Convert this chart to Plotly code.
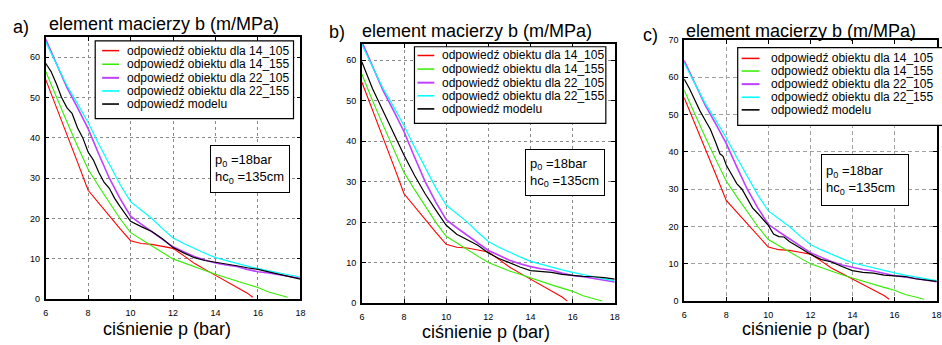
import plotly.graph_objects as go

W, H = 942, 345

# ---------------- data ----------------
p_14_105 = [6, 6.5, 7, 7.5, 8, 8.5, 9, 9.5, 10, 10.5, 11, 11.5, 12, 12.5, 13, 13.5, 14, 14.5, 15, 15.5, 15.75]
b_14_105 = [54.5, 47.8, 41, 34, 27, 23.8, 20.8, 17.5, 14.5, 13.8, 13.6, 13.1, 12.6, 10.8, 8.9, 7.4, 5.9, 4.4, 3.0, 1.5, 0.5]

p_14_155 = [6, 6.5, 7, 7.5, 8, 8.5, 9, 9.5, 10, 10.5, 11, 11.5, 12, 12.5, 13, 13.5, 14, 14.5, 15, 15.5, 16, 16.5, 17, 17.4]
b_14_155 = [56.5, 50, 44, 38, 32.2, 28, 24, 20, 16.5, 14.8, 13.3, 11.6, 10, 9, 7.9, 7.1, 6.2, 5.3, 4.5, 3.7, 2.9, 1.8, 1.1, 0.5]

p_22 = [6, 6.5, 7, 7.5, 8, 8.5, 9, 9.5, 10, 10.5, 11, 11.5, 12, 12.5, 13, 13.5, 14, 14.5, 15, 15.5, 16, 16.5, 17, 17.5, 18]
b_22_105 = [64.5, 58.5, 52.5, 47.5, 42.3, 36, 30, 25, 20.6, 18.6, 16.8, 14.8, 13, 11.8, 10.6, 9.7, 9.0, 8.5, 8.1, 7.4, 6.8, 6.5, 6.1, 5.6, 5.2]
b_22_155 = [63.8, 58.5, 53, 48.5, 43.8, 38.5, 33.5, 28.5, 24.2, 22, 20, 17.5, 15.2, 13.8, 12.5, 11.4, 10.3, 9.6, 8.8, 8.2, 7.6, 7, 6.5, 6, 5.5]

p_model_a = [6, 6.25, 6.5, 6.75, 7, 7.25, 7.5, 7.75, 8, 8.25, 8.5, 8.75, 9, 9.25, 9.5, 9.75, 10, 10.5, 11, 11.5, 12, 12.5, 13, 13.5, 14, 14.5, 15, 15.5, 16, 16.5, 17, 17.5, 18]
b_model_a = [58.5, 56.5, 53.5, 50, 47.5, 46, 42.5, 40, 36.5, 34.5, 31.5, 29, 27.5, 25, 23, 21, 19.3, 18, 16.8, 15, 12.8, 11.5, 10.3, 9.6, 9.2, 8.8, 8.3, 7.8, 7.4, 6.8, 6.2, 5.6, 5.0]

p_model_b = [6, 6.25, 6.5, 7, 7.5, 8, 8.5, 9, 9.5, 10, 10.5, 11, 11.5, 12, 12.5, 13, 13.5, 14, 14.5, 15, 15.5, 16, 16.5, 17, 17.5, 18]
b_model_b = [59.5, 56, 53, 47.5, 42, 36.5, 31.5, 27, 23, 19.2, 17, 15.7, 14.3, 12.4, 11, 10, 8.9, 8, 7.8, 7.6, 7.1, 6.8, 6.6, 6.5, 6.3, 5.9]

p_model_c = [6, 6.25, 6.5, 6.75, 7, 7.25, 7.5, 7.7, 7.85, 8, 8.25, 8.5, 8.75, 9, 9.25, 9.5, 9.75, 10, 10.25, 10.5, 10.75, 11, 11.5, 12, 12.5, 13, 13.5, 14, 14.5, 15, 15.5, 16, 16.5, 17, 17.5, 18]
b_model_c = [59.5, 57, 54, 51, 48.5, 46, 42.5, 39.5, 38.8, 36.5, 34, 31.5, 30, 27.5, 25, 23.5, 22, 20.3, 18, 17.3, 17.2, 16, 14.3, 12.6, 11.2, 10.5, 9.3, 8.2, 7.7, 7.5, 7, 6.8, 6.6, 6, 5.7, 5.3]

x_ticks = [6, 8, 10, 12, 14, 16, 18]
names = ["odpowiedź obiektu dla 14_105", "odpowiedź obiektu dla 14_155",
         "odpowiedź obiektu dla 22_105", "odpowiedź obiektu dla 22_155",
         "odpowiedź modelu"]
panel_labels = ["a)", "b)", "c)"]
title_text = "element macierzy b (m/MPa)"
xlabel_text = "ciśnienie p (bar)"
note_text = "p<sub>0</sub> =18bar<br>hc<sub>0</sub> =135cm"

# ---------------- styling / layout ----------------
colors = ["#ff0000", "#33ee00", "#bf40ff", "#00ffff", "#000000"]
widths = [1.1, 1.1, 1.6, 1.2, 1.2]
FONT = "Arial, Liberation Sans, sans-serif"
LEG_FONT = (12, FONT)


def fx(px):
    return px / W


def fy(py):
    return 1 - py / H


panels = [
    dict(xd=(43, 300), yd=(33, 303), xmax=18, ymax=65, yt=list(range(0, 61, 10)), dash="dot", grid="#8a8a8a",
         model=(p_model_a, b_model_a),
         legbox=(93, 37, 293, 117), rows=[47, 61, 75, 88.5, 102], samp=(100, 117), txt=123,
         note=(209, 169, 70, 38), title=(44, 20), lab=(8, 23), xl=(99, 334)),
    dict(xd=(362, 617), yd=(40, 307), xmax=18, ymax=64, yt=list(range(0, 61, 10)), dash="dot", grid="#8a8a8a",
         model=(p_model_b, b_model_b),
         legbox=(415, 43, 608, 122), rows=[52, 66, 80, 93.5, 107], samp=(418, 435), txt=441,
         note=(526, 173, 70, 37), title=(360, 27), lab=(327, 28), xl=(421, 337)),
    dict(xd=(687, 942), yd=(36, 305), xmax=18.02, ymax=70, yt=list(range(0, 71, 10)), dash="4px,3px", grid="#a0a0a0",
         model=(p_model_c, b_model_c),
         legbox=(741, 44, 950, 124), rows=[55, 68, 81.5, 95, 108], samp=(745, 763), txt=773,
         note=(825, 180, 78, 42), title=(687, 27), lab=(643, 31), xl=(743, 334)),
]

fig = go.Figure()
layout = dict(
    width=W, height=H, margin=dict(l=0, r=0, t=0, b=0),
    paper_bgcolor="white", plot_bgcolor="white",
    font=dict(family=FONT, color="black", size=12),
    showlegend=False, annotations=[], shapes=[],
)

for i, pn in enumerate(panels):
    k = "" if i == 0 else str(i + 1)
    xa, ya = "x" + k, "y" + k
    series = [(p_14_105, b_14_105), (p_14_155, b_14_155), (p_22, b_22_105), (p_22, b_22_155), pn["model"]]
    for j, (px_, bv) in enumerate(series):
        fig.add_trace(go.Scatter(
            x=px_, y=bv, mode="lines", name=names[j],
            line=dict(color=colors[j], width=widths[j]),
            xaxis=xa, yaxis=ya,
        ))
    common = dict(showline=True, linecolor="black", linewidth=1.5, mirror="ticks",
                  ticks="inside", ticklen=4, tickcolor="black",
                  showgrid=True, gridcolor=pn["grid"], griddash=pn["dash"], gridwidth=1,
                  zeroline=False, tickfont=dict(size=9, family=FONT, color="black"))
    layout["xaxis" + k] = dict(common, domain=[fx(pn["xd"][0]), fx(pn["xd"][1])],
                               range=[6, pn["xmax"]], tickvals=x_ticks, anchor=ya,
                               ticklabelstandoff=4, ticklabeloverflow="allow")
    layout["yaxis" + k] = dict(common, domain=[fy(pn["yd"][1]), fy(pn["yd"][0])],
                               range=[0, pn["ymax"]], tickvals=pn["yt"], anchor=xa,
                               ticklabelstandoff=2)

    # legend box (drawn in paper coordinates)
    bx0, by0, bx1, by1 = pn["legbox"]
    layout["shapes"].append(dict(type="rect", xref="paper", yref="paper",
                                 x0=fx(bx0), x1=fx(bx1), y0=fy(by1), y1=fy(by0),
                                 fillcolor="white", line=dict(color="black", width=1.2),
                                 layer="above"))
    for j, ry in enumerate(pn["rows"]):
        layout["shapes"].append(dict(type="line", xref="paper", yref="paper",
                                     x0=fx(pn["samp"][0]), x1=fx(pn["samp"][1]),
                                     y0=fy(ry), y1=fy(ry),
                                     line=dict(color=colors[j], width=widths[j] + 0.4),
                                     layer="above"))
        layout["annotations"].append(dict(x=fx(pn["txt"]), y=fy(ry), xref="paper", yref="paper",
                                          text=names[j], showarrow=False,
                                          xanchor="left", yanchor="middle",
                                          font=dict(size=LEG_FONT[0], family=LEG_FONT[1],
                                                    color="black")))

    nx, ny, nw, nh = pn["note"]
    layout["annotations"] += [
        dict(x=fx(nx), y=fy(ny), xref="paper", yref="paper", text=note_text,
             showarrow=False, align="left", width=nw, height=nh, valign="middle",
             xanchor="left", yanchor="middle",
             bordercolor="black", borderwidth=1, borderpad=4, bgcolor="white",
             font=dict(size=13, family=FONT, color="black")),
        dict(x=fx(pn["title"][0]), y=fy(pn["title"][1]), xref="paper", yref="paper",
             text=title_text, showarrow=False, xanchor="left", yanchor="middle",
             font=dict(size=18, family=FONT, color="black")),
        dict(x=fx(pn["lab"][0]), y=fy(pn["lab"][1]), xref="paper", yref="paper",
             text=panel_labels[i], showarrow=False, xanchor="left", yanchor="middle",
             font=dict(size=18, family=FONT, color="black")),
        dict(x=fx(pn["xl"][0]), y=fy(pn["xl"][1]), xref="paper", yref="paper",
             text=xlabel_text, showarrow=False, xanchor="left", yanchor="middle",
             font=dict(size=18, family=FONT, color="black")),
    ]

fig.update_layout(**layout)
fig.write_html("out.html")
